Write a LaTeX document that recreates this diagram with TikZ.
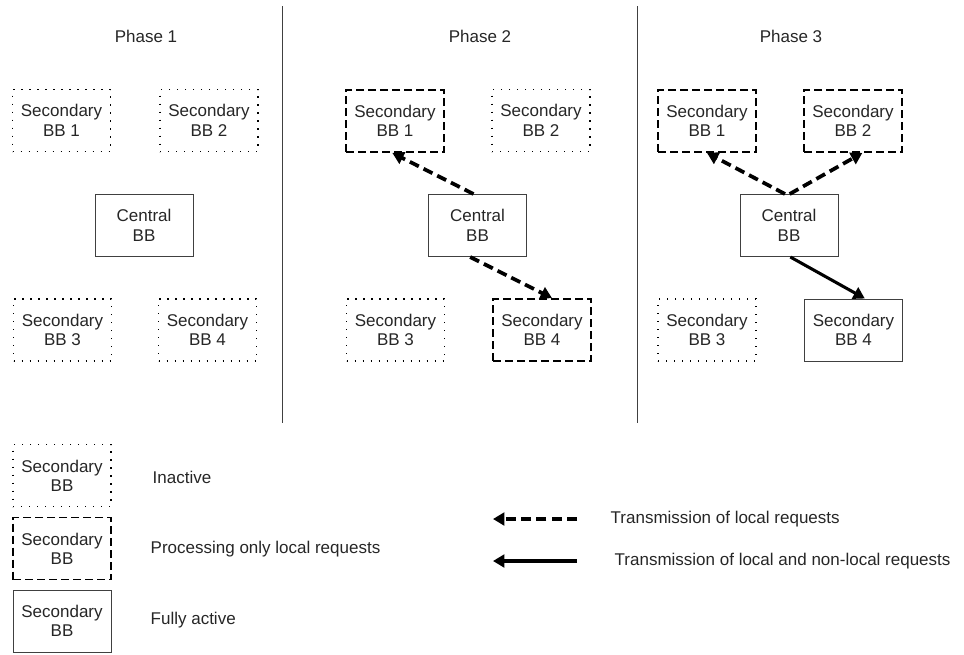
\documentclass[tikz,border=0pt]{standalone}
\usepackage{fontspec}
\setmainfont{Liberation Sans}
\usetikzlibrary{arrows.meta}
\tikzset{
  bb/.style={align=center,minimum width=73.5pt,minimum height=46.5pt,inner sep=0pt,text=black!85,
    font=\fontsize{12.75}{14.5}\selectfont},
  inactive/.style={bb,draw=black,line width=1.1pt,dash pattern=on 1.1pt off 4.9pt},
  localbb/.style={bb,draw=black,line width=1.4pt,dash pattern=on 6pt off 3pt},
  activebb/.style={bb,draw=black!75,line width=0.75pt},
  lbl/.style={anchor=west,text=black!85,font=\fontsize{12.75}{14.5}\selectfont},
  localarr/.style={line width=2.8pt,dash pattern=on 7.5pt off 4pt,-{Triangle[length=8.5pt,width=9.5pt]}},
  fullarr/.style={line width=2.3pt,-{Triangle[length=8.5pt,width=9.5pt]}}
}
\begin{document}
\begin{tikzpicture}[x=0.75pt,y=-0.75pt]
  \useasboundingbox (0,0) rectangle (964,654);
  % Separadores
  \draw[black!75,line width=0.75pt] (282,6) -- (282,423);
  \draw[black!75,line width=0.75pt] (637,6) -- (637,423);
  % Fase 1
  \node[lbl,anchor=center] (t1) at (146,36) {Phase 1};
  \node[inactive] (a1) at (61.5,120.5) {Secondary\\BB 1};
  \node[inactive] (b1) at (209,120.5) {Secondary\\BB 2};
  \node[activebb] (c1) at (144,225.5) {Central\\BB};
  \node[inactive] (d1) at (62.5,330) {Secondary\\BB 3};
  \node[inactive] (e1) at (207.5,330) {Secondary\\BB 4};
  % Fase 2
  \node[lbl,anchor=center] (t2) at (480,36) {Phase 2};
  \node[localbb] (a2) at (395,121) {Secondary\\BB 1};
  \node[inactive] (b2) at (541,120.5) {Secondary\\BB 2};
  \node[activebb] (c2) at (477.5,225.5) {Central\\BB};
  \node[inactive] (d2) at (395.5,330) {Secondary\\BB 3};
  \node[localbb] (e2) at (542,330) {Secondary\\BB 4};
  \draw[localarr] ([xshift=-3pt]c2.north) -- ([xshift=-2pt]a2.south);
  \draw[localarr] ([xshift=-5.5pt]c2.south) -- ([xshift=7.5pt]e2.north);
  % Fase 3
  \node[lbl,anchor=center] (t3) at (791,36) {Phase 3};
  \node[localbb] (a3) at (707,121) {Secondary\\BB 1};
  \node[localbb] (b3) at (853,121) {Secondary\\BB 2};
  \node[activebb] (c3) at (789,225.5) {Central\\BB};
  \node[inactive] (d3) at (707,330) {Secondary\\BB 3};
  \node[activebb] (e3) at (853.5,330) {Secondary\\BB 4};
  \draw[localarr] ([xshift=-3pt]c3.north) -- (a3.south);
  \draw[localarr] ([xshift=0.5pt]c3.north) -- ([xshift=7pt]b3.south);
  \draw[fullarr] ([xshift=1pt]c3.south) -- ([xshift=8.5pt]e3.north);
  % Leyenda
  \node[inactive] (k1) at (62,475.5) {Secondary\\BB};
  \node[localbb] (k2) at (62,548.5) {Secondary\\BB};
  \node[activebb] (k3) at (62,621) {Secondary\\BB};
  \node[lbl] (k1t) at (148,477) {Inactive};
  \node[lbl] (k2t) at (146,549) {Processing only local requests};
  \node[lbl] (k3t) at (146,620) {Fully active};
  \coordinate (m1s) at (577,519);
  \coordinate (m1e) at (493,519);
  \coordinate (m2s) at (577,561);
  \coordinate (m2e) at (493,561);
  \draw[localarr] (m1s) -- (m1e);
  \draw[fullarr] (m2s) -- (m2e);
  \node[lbl] (m1t) at (606,519) {Transmission of local requests};
  \node[lbl] (m2t) at (610,561) {Transmission of local and non-local requests};
\end{tikzpicture}
\end{document}
